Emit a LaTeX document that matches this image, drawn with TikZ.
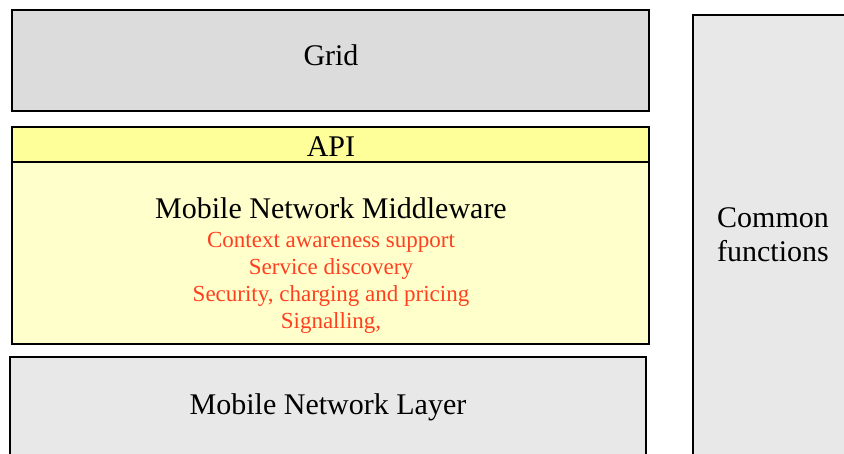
\documentclass[tikz,border=0pt]{standalone}
\usepackage{fontspec}
\setmainfont{Liberation Serif}
\definecolor{gridgray}{RGB}{220,220,220}
\definecolor{lightgray}{RGB}{232,232,232}
\definecolor{apiyellow}{RGB}{255,255,153}
\definecolor{mwyellow}{RGB}{255,255,204}
\definecolor{redtext}{RGB}{255,64,32}
\begin{document}
\begin{tikzpicture}[x=1pt,y=-1pt,
  layer/.style={draw=black,line width=1.2pt},
  big/.style={font=\fontsize{30}{34}\selectfont,anchor=base,inner sep=0pt},
  mid/.style={font=\fontsize{30}{34}\selectfont,anchor=base,inner sep=0pt},
  small/.style={font=\fontsize{23}{27}\selectfont,text=redtext,anchor=base,inner sep=0pt}]
\useasboundingbox (0,0) rectangle (844,454);
\begin{scope}
\clip (0,0) rectangle (844,454);
\path[layer,fill=gridgray] (12,10) rectangle (649,111);
\path[layer,fill=mwyellow] (12,162) rectangle (649,344);
\path[layer,fill=apiyellow] (12,127) rectangle (649,162);
\path[layer,fill=lightgray] (10,357) rectangle (646,470);
\path[layer,fill=lightgray] (693,15) rectangle (860,470);
\end{scope}
\node[big] (grid) at (331,66) {Grid};
\node[big] (api) at (331,157) {API};
\node[big] (mw) at (331,219) {Mobile Network Middleware};
\node[small] (f1) at (331,248) {Context awareness support};
\node[small] (f2) at (331,275) {Service discovery};
\node[small] (f3) at (331,302) {Security, charging and pricing};
\node[small] (f4) at (331,329) {Signalling,};
\node[big] (mnl) at (328,414) {Mobile Network Layer};
\node[mid] (common) at (773,228) {Common};
\node[mid] (functions) at (773,262) {functions};
\end{tikzpicture}
\end{document}
